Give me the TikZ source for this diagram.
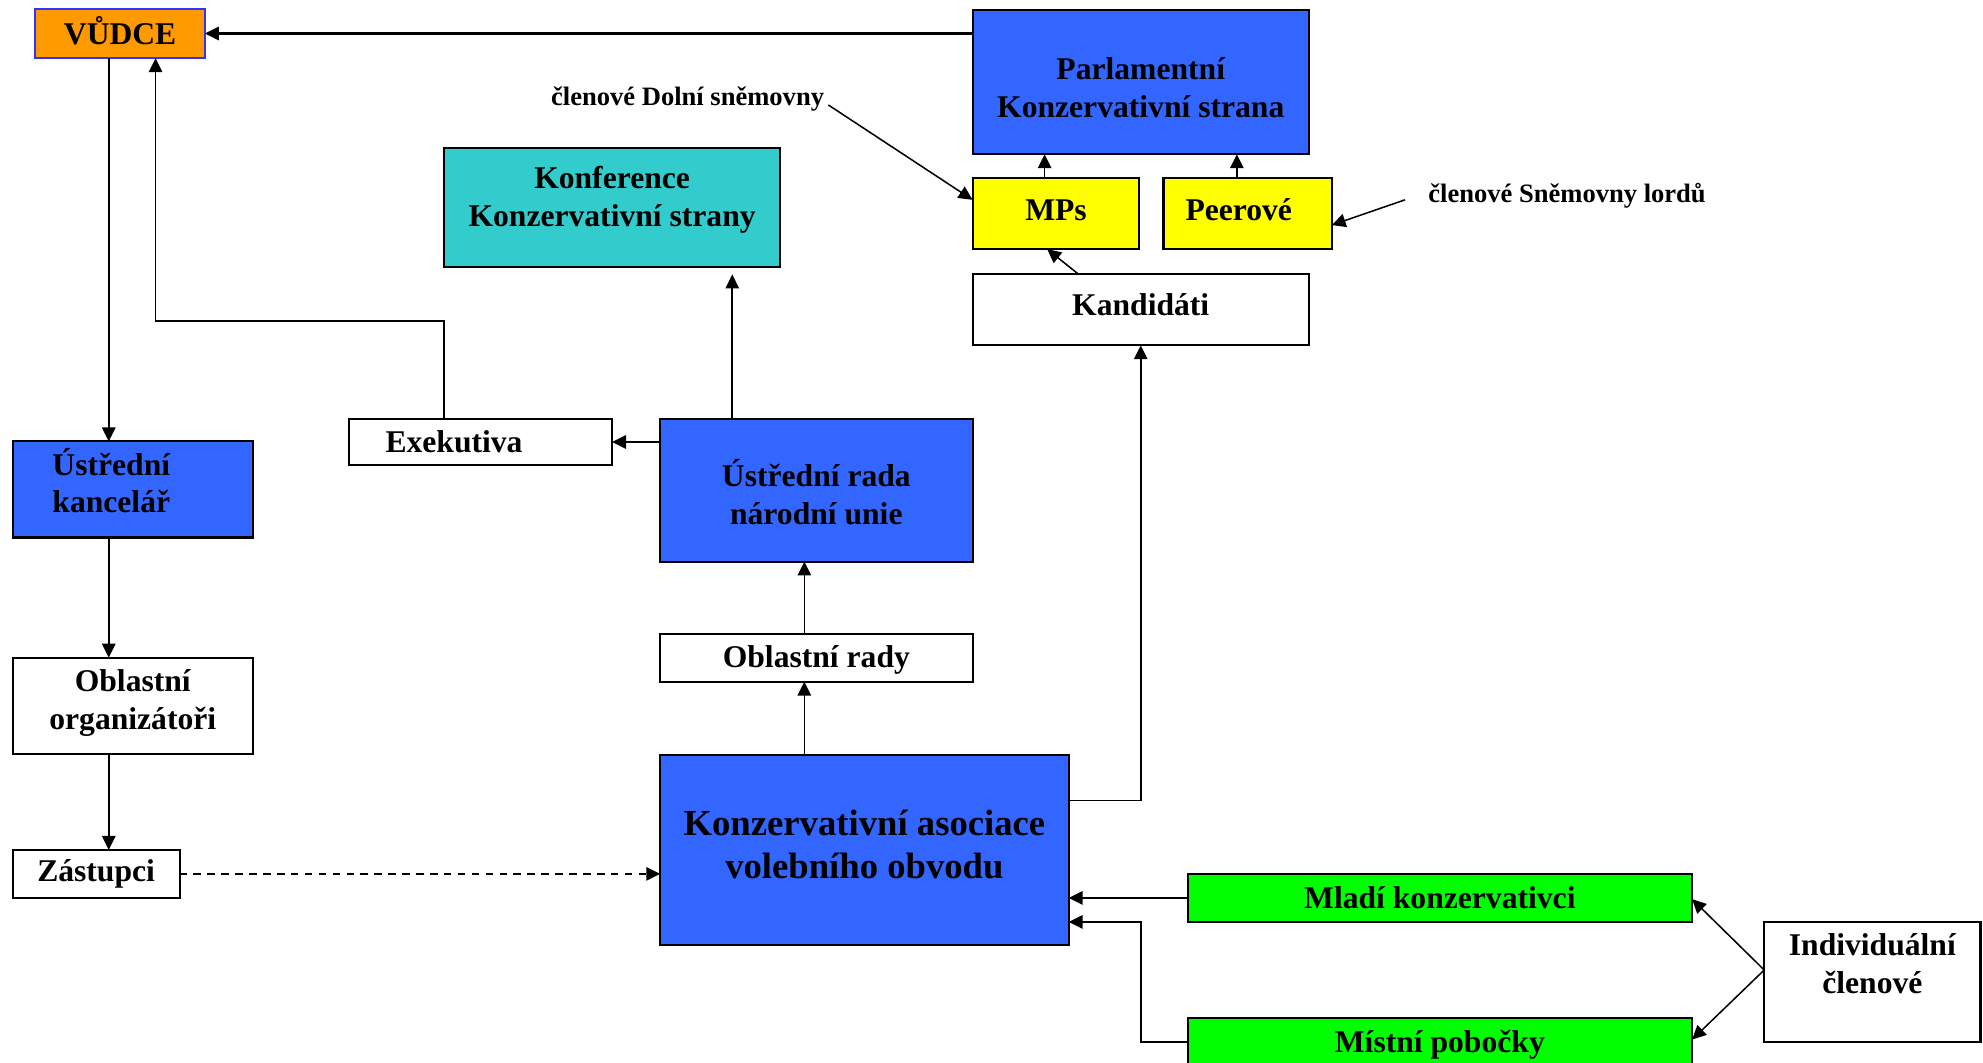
\documentclass[tikz,border=0pt]{standalone}
\usepackage{fontspec}
\setmainfont{Liberation Serif}
\usetikzlibrary{arrows.meta}
\definecolor{cblue}{HTML}{3366FF}
\definecolor{cteal}{HTML}{33CCCC}
\definecolor{cyel}{HTML}{FFFF00}
\definecolor{cgreen}{HTML}{00FF00}
\definecolor{corange}{HTML}{FF9900}
\definecolor{cborder}{HTML}{3333FF}
\begin{document}
\begin{tikzpicture}[x=0.5pt,y=-0.5pt,
  box/.style={draw=black, line width=0.8pt, inner sep=0pt, outer sep=0pt},
  txt/.style={font=\bfseries\fontsize{12.5}{15}\selectfont, align=center, inner sep=0pt},
  bigtxt/.style={font=\bfseries\fontsize{14.5}{17}\selectfont, align=center, inner sep=0pt},
  lbl/.style={font=\bfseries\fontsize{10.5}{12}\selectfont, inner sep=0pt},
  arr/.style={line width=0.6pt, -{Triangle[length=5.5pt,width=5.3pt]}}]
\clip (0,0) rectangle (1568,840);
\fill[white] (0,0) rectangle (1568,840);

% boxes
\node[box, fill=corange, draw=cborder, minimum width=67pt, minimum height=19.5pt] (vudce) at (95,26.5) {};
\node[txt] (vudceT) at (95,24.5) {VŮDCE};
\node[box, fill=cblue, minimum width=133pt, minimum height=57pt] (parl) at (902,65) {};
\node[txt] (parlT) at (902,69) {Parlamentní\\Konzervativní strana};
\node[box, fill=cteal, minimum width=133pt, minimum height=47pt] (konf) at (484,164) {};
\node[txt] (konfT) at (484,158) {Konference\\Konzervativní strany};
\node[box, fill=cyel, minimum width=66pt, minimum height=28pt] (mps) at (835,169) {};
\node[txt] (mpsT) at (835,166) {MPs};
\node[box, fill=cyel, minimum width=66.5pt, minimum height=28pt] (peer) at (986.5,169) {};
\node[txt] (peerT) at (979.5,166) {Peerové};
\node[box, fill=white, minimum width=133pt, minimum height=28pt] (kand) at (902,245) {};
\node[txt] (kandT) at (902,241) {Kandidáti};
\node[box, fill=white, minimum width=104pt, minimum height=18.5pt] (exek) at (380,349.5) {};
\node[txt] (exekT) at (359,349) {Exekutiva};
\node[box, fill=cblue, minimum width=123.5pt, minimum height=56.5pt] (urada) at (645.5,387.5) {};
\node[txt] (uradaT) at (645.5,389.5) {Ústřední rada\\národní unie};
\node[box, fill=cblue, minimum width=95pt, minimum height=38pt] (ukanc) at (105,387) {};
\node[txt] (ukancT) at (88,380) {Ústřední\\kancelář};
\node[box, fill=white, minimum width=123.5pt, minimum height=19pt] (orady) at (645.5,520) {};
\node[txt] (oradyT) at (645.5,522) {Oblastní rady};
\node[box, fill=white, minimum width=95pt, minimum height=38pt] (oorg) at (105,558) {};
\node[txt] (oorgT) at (105,556) {Oblastní\\organizátoři};
\node[box, fill=white, minimum width=66pt, minimum height=19pt] (zast) at (76,691) {};
\node[txt] (zastT) at (76,691) {Zástupci};
\node[box, fill=cblue, minimum width=161.5pt, minimum height=75pt] (kav) at (683.5,672) {};
\node[bigtxt] (kavT) at (683.5,668) {Konzervativní asociace\\volebního obvodu};
\node[box, fill=cgreen, minimum width=199.5pt, minimum height=19pt] (mladi) at (1138.5,710) {};
\node[txt] (mladiT) at (1138.5,710) {Mladí konzervativci};
\node[box, fill=cgreen, minimum width=199.5pt, minimum height=19pt] (mistni) at (1138.5,824) {};
\node[txt] (mistniT) at (1138.5,826) {Místní pobočky};
\node[box, fill=white, minimum width=85.5pt, minimum height=47.5pt] (indiv) at (1480.5,776.5) {};
\node[txt] (indivT) at (1480.5,762) {Individuální\\členové};

% side labels
\node[lbl, anchor=east] (lDolni) at (652,78) {členové Dolní sněmovny};
\node[lbl, anchor=west] (lLordu) at (1129,155) {členové Sněmovny lordů};

% helper coordinates
\coordinate (cL) at (86,0);
\coordinate (exA) at (351,254);
\coordinate (exB) at (123,254);
\coordinate (cK) at (579,0);
\coordinate (cR) at (636,0);
\coordinate (kc) at (902,633);
\coordinate (kandA) at (853,0);
\coordinate (mpsA) at (828,0);
\coordinate (cM) at (826,0);
\coordinate (cP) at (978,0);
\coordinate (dA) at (655,83);
\coordinate (dB) at (0,158);
\coordinate (lA) at (1111,158);
\coordinate (lB) at (0,178);
\coordinate (mc) at (902,729);
\coordinate (iA) at (0,767);
\coordinate (yA) at (0,711);
\coordinate (yB) at (0,822);

% connectors
\draw[arr, line width=0.8pt] (parl.west |- vudce.east) -- (vudce.east);
\draw[arr] (vudce.south -| cL) -- (ukanc.north -| cL);
\draw[arr] (ukanc.south -| cL) -- (oorg.north -| cL);
\draw[arr] (oorg.south -| cL) -- (zast.north -| cL);
\draw[arr] (exek.north -| exA) -- (exA) -- (exB) -- (vudce.south -| exB);
\draw[arr] (urada.west |- exek.east) -- (exek.east);
\draw[arr, shorten >=3pt] (urada.north -| cK) -- (konf.south -| cK);
\draw[arr, dash pattern=on 3pt off 2.5pt] (zast.east) -- (kav.west |- zast.east);
\draw[arr] (kav.north -| cR) -- (orady.south -| cR);
\draw[arr] (orady.north -| cR) -- (urada.south -| cR);
\draw[arr] (kav.east |- kc) -- (kc) -- (kand.south);
\draw[arr] (kand.north -| kandA) -- (mps.south -| mpsA);
\draw[arr] (mps.north -| cM) -- (parl.south -| cM);
\draw[arr] (peer.north -| cP) -- (parl.south -| cP);
\draw[arr] (dA) -- (mps.west |- dB);
\draw[arr] (lA) -- (peer.east |- lB);
\draw[arr] (mladi.west) -- (kav.east |- mladi.west);
\draw[arr] (mistni.west) -- (mistni.west -| kc) -- (mc) -- (kav.east |- mc);
\draw[arr] (indiv.west |- iA) -- (mladi.east |- yA);
\draw[arr] (indiv.west |- iA) -- (mistni.east |- yB);
\end{tikzpicture}
\end{document}
